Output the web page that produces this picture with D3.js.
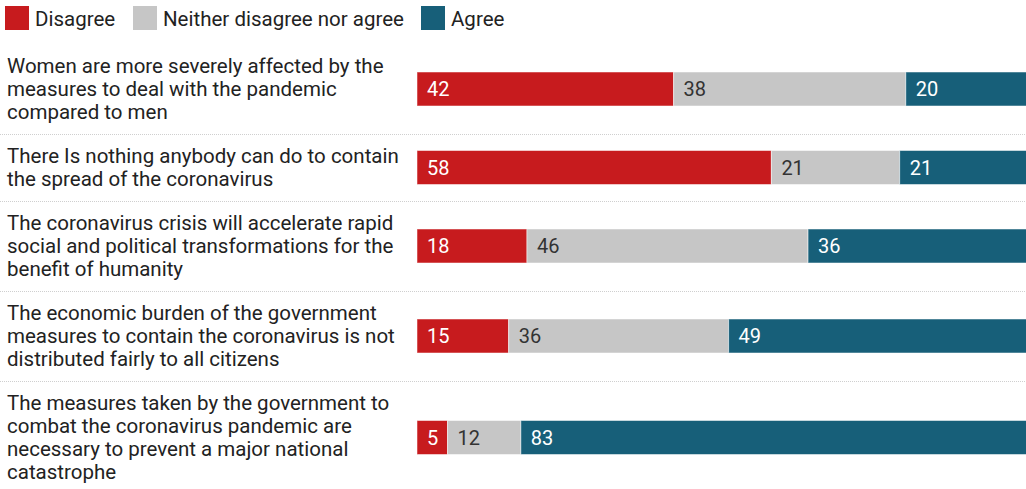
<!DOCTYPE html>
<html><head><meta charset="utf-8">
<script src="https://cdn.jsdelivr.net/npm/d3@7"></script>
<style>
html,body{margin:0;padding:0;background:#fff;}
svg{display:block;font-family:Roboto,"Noto Sans",sans-serif;}
</style></head>
<body><svg id="chart" width="1026" height="489"></svg>
<script>
const categories = [
  ["Women are more severely affected by the", "measures to deal with the pandemic", "compared to men"],
  ["There Is nothing anybody can do to contain", "the spread of the coronavirus"],
  ["The coronavirus crisis will accelerate rapid", "social and political transformations for the", "benefit of humanity"],
  ["The economic burden of the government", "measures to contain the coronavirus is not", "distributed fairly to all citizens"],
  ["The measures taken by the government to", "combat the coronavirus pandemic are", "necessary to prevent a major national", "catastrophe"]
];
const seriesNames = ["Disagree", "Neither disagree nor agree", "Agree"];
const disagree = [42, 58, 18, 15, 5];
const neither = [38, 21, 46, 36, 12];
const agree = [20, 21, 36, 49, 83];
const colors = ["#c71b1e", "#c6c6c6", "#175f79"];
const textColors = ["#ffffff", "#333333", "#ffffff"];

const svg = d3.select("#chart");
const lineH = 23, pad = 21, firstTop = 44, fs = 20.5;
const series = [disagree, neither, agree];

const x = d3.scaleLinear().domain([0, 100]).range([417, 1028]);

let tops = [], y = firstTop;
categories.forEach(c => { tops.push(y); y += c.length * lineH + pad; });

// legend
const legendX = [5, 133, 421];
const lg = svg.append("g");
seriesNames.forEach((n, i) => {
  lg.append("rect").attr("x", legendX[i]).attr("y", 6).attr("width", 24).attr("height", 24)
    .attr("fill", colors[i]);
  lg.append("text").attr("x", legendX[i] + 30).attr("y", 26).attr("font-size", fs)
    .attr("fill", "#222").text(n);
});

tops.slice(1).forEach(t => {
  svg.append("line").attr("x1", 0).attr("x2", 1026).attr("y1", t + 0.5).attr("y2", t + 0.5)
    .attr("stroke", "#cfcfcf").attr("stroke-width", 1).attr("stroke-dasharray", "1,1");
});

categories.forEach((lines, r) => {
  const top = tops[r];
  const h = lines.length * lineH + pad;
  const g = svg.append("g");
  const t = g.append("text").attr("font-size", fs).attr("fill", "#222");
  lines.forEach((l, k) => {
    t.append("tspan").attr("x", 7).attr("y", top + 28.5 + k * lineH).text(l);
  });
  const cy = top + h / 2;
  const bh = 34;
  let cum = 0;
  series.forEach((s, i) => {
    const v = s[r];
    g.append("rect").attr("x", x(cum)).attr("y", cy - bh / 2)
      .attr("width", x(cum + v) - x(cum)).attr("height", bh)
      .attr("fill", colors[i]).attr("stroke", "#ffffff").attr("stroke-opacity", 0.5).attr("stroke-width", 1);
    g.append("text").attr("x", x(cum) + 10).attr("y", cy + 7).attr("font-size", 20)
      .attr("fill", textColors[i]).text(v);
    cum += v;
  });
});
</script></body></html>
